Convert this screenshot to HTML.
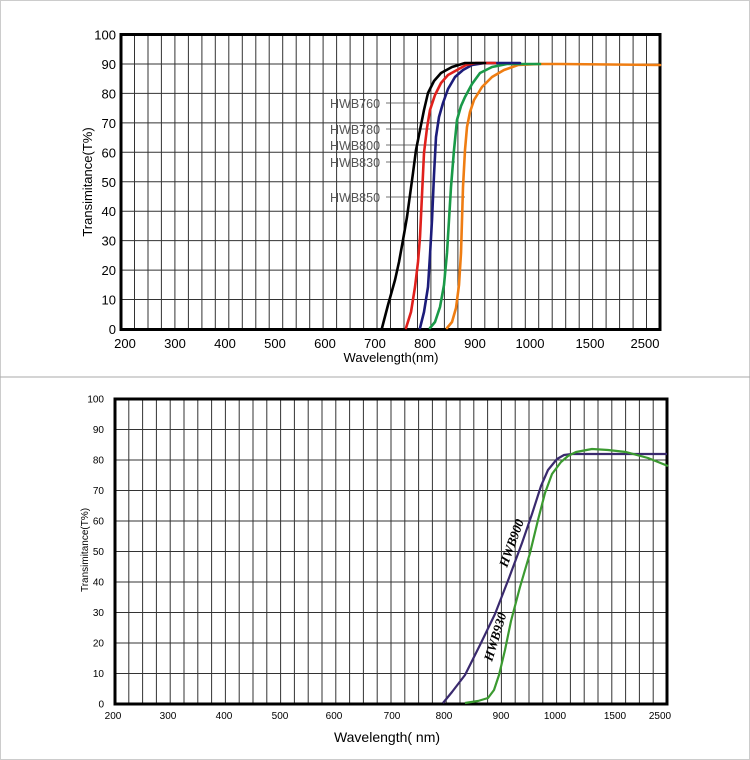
<!DOCTYPE html>
<html><head><style>
body{margin:0;background:#fff;}
svg{display:block;font-family:"Liberation Sans",sans-serif;}
</style></head><body>
<svg width="750" height="760" viewBox="0 0 750 760" xmlns="http://www.w3.org/2000/svg">
<rect x="0.5" y="0.5" width="749" height="759" fill="#fff" stroke="#ccc"/>
<line x1="0" y1="377" x2="750" y2="377" stroke="#aaa" stroke-width="1"/>
<path stroke="#333" stroke-width="1" fill="none" d="M134.5,34V329M148,34V329M161.4,34V329M174.9,34V329M188.4,34V329M201.9,34V329M215.3,34V329M228.8,34V329M242.3,34V329M255.8,34V329M269.2,34V329M282.7,34V329M296.2,34V329M309.7,34V329M323.1,34V329M336.6,34V329M350.1,34V329M363.6,34V329M377,34V329M390.5,34V329M404,34V329M417.5,34V329M430.9,34V329M444.4,34V329M457.9,34V329M471.4,34V329M484.8,34V329M498.3,34V329M511.8,34V329M525.3,34V329M538.7,34V329M552.2,34V329M565.7,34V329M579.2,34V329M592.6,34V329M606.1,34V329M619.6,34V329M633.1,34V329M646.5,34V329
M121,299.55H660M121,270.1H660M121,240.65H660M121,211.2H660M121,181.75H660M121,152.3H660M121,122.85H660M121,93.4H660M121,63.95H660"/>
<path stroke="#333" stroke-width="1" fill="none" d="M128.8,399V704M142.6,399V704M156.4,399V704M170.2,399V704M184,399V704M197.8,399V704M211.6,399V704M225.4,399V704M239.2,399V704M253,399V704M266.8,399V704M280.6,399V704M294.4,399V704M308.2,399V704M322,399V704M335.8,399V704M349.6,399V704M363.4,399V704M377.2,399V704M391,399V704M404.8,399V704M418.6,399V704M432.4,399V704M446.2,399V704M460,399V704M473.8,399V704M487.6,399V704M501.4,399V704M515.2,399V704M529,399V704M542.8,399V704M556.6,399V704M570.4,399V704M584.2,399V704M598,399V704M611.8,399V704M625.6,399V704M639.4,399V704M653.2,399V704
M115,673.5H667M115,643H667M115,612.5H667M115,582H667M115,551.5H667M115,521H667M115,490.5H667M115,460H667M115,429.5H667"/>
<rect x="121" y="34.5" width="539" height="295" fill="none" stroke="#000" stroke-width="3"/>
<rect x="115" y="399" width="552" height="305" fill="none" stroke="#000" stroke-width="3"/>
<g font-size="13" fill="#000" text-anchor="end">
<text x="116" y="334">0</text><text x="116" y="304.5">10</text><text x="116" y="275">20</text><text x="116" y="245.6">30</text><text x="116" y="216.2">40</text><text x="116" y="186.8">50</text><text x="116" y="157.3">60</text><text x="116" y="127.9">70</text><text x="116" y="98.4">80</text><text x="116" y="69">90</text><text x="116" y="39.5">100</text>
</g>
<g font-size="13" fill="#000" text-anchor="middle">
<text x="125" y="348">200</text><text x="175" y="348">300</text><text x="225" y="348">400</text><text x="275" y="348">500</text><text x="325" y="348">600</text><text x="375" y="348">700</text><text x="425" y="348">800</text><text x="475" y="348">900</text><text x="530" y="348">1000</text><text x="590" y="348">1500</text><text x="645" y="348">2500</text>
</g>
<text x="391" y="362" font-size="13" text-anchor="middle">Wavelength(nm)</text>
<text transform="translate(92,182) rotate(-90)" font-size="13" text-anchor="middle">Transimitance(T%)</text>
<g font-size="12.5" fill="#555">
<text x="330" y="108">HWB760</text><text x="330" y="134">HWB780</text><text x="330" y="150">HWB800</text><text x="330" y="167">HWB830</text><text x="330" y="202">HWB850</text>
</g>
<g stroke="#444" stroke-width="0.8">
<line x1="386" y1="103" x2="420" y2="103"/><line x1="386" y1="129" x2="430" y2="129"/><line x1="386" y1="145" x2="440" y2="145"/><line x1="386" y1="162" x2="455" y2="162"/><line x1="386" y1="197" x2="465" y2="197"/>
</g>
<g fill="none" stroke-width="2.6" stroke-linejoin="round" stroke-linecap="round">
<polyline stroke="#ef7d12" points="447,328 452,322 456,308 459,285 461,253 462,220 463,187 465,150 467,127 470,112 474,100 482,87 492,77 504,70 518,65 540,64 560,64 660,65"/>
<polyline stroke="#1a9a48" points="430,328 435,322 440,307 444,285 447,253 449,220 451,187 454,150 457,120 461,106 465,97 472,84 480,73 492,67 507,64 540,64"/>
<polyline stroke="#1c1c7a" points="420,328 424,312 428,287 430,255 432,220 434,175 436,137 439,117 443,103 448,89 455,77 463,70 472,65 485,63 499,63 520,63"/>
<polyline stroke="#e0201c" points="406,328 411,312 415,287 418,262 420,237 422,195 424,153 427,128 430,110 435,95 441,83 448,75 457,70 466,65 476,63 495,63"/>
<polyline stroke="#000" points="382,328 388,305 395,280 399,262 403,240 407,217 410,195 413,173 416,150 420,130 424,110 428,93 434,81 441,73 452,67 465,63 485,63"/>
</g>
<g font-size="10" fill="#000" text-anchor="end">
<text x="104" y="707.5">0</text><text x="104" y="677">10</text><text x="104" y="646.5">20</text><text x="104" y="616">30</text><text x="104" y="585.5">40</text><text x="104" y="555">50</text><text x="104" y="524.5">60</text><text x="104" y="494">70</text><text x="104" y="463.5">80</text><text x="104" y="433">90</text><text x="104" y="402.5">100</text>
</g>
<g font-size="10" fill="#000" text-anchor="middle">
<text x="113" y="719">200</text><text x="168" y="719">300</text><text x="224" y="719">400</text><text x="280" y="719">500</text><text x="334" y="719">600</text><text x="392" y="719">700</text><text x="444" y="719">800</text><text x="501" y="719">900</text><text x="555" y="719">1000</text><text x="615" y="719">1500</text><text x="660" y="719">2500</text>
</g>
<text x="387" y="742" font-size="14" text-anchor="middle">Wavelength( nm)</text>
<text transform="translate(88,550) rotate(-90)" font-size="10" text-anchor="middle">Transimitance(T%)</text>
<g fill="none" stroke-width="2.2" stroke-linejoin="round">
<polyline stroke="#3a2a6e" points="443,703 452,692 465,675 480,645 495,614 509,578 522,543 532,514 541,486 548,470 557,459 564,455 572,454 667,454"/>
<polyline stroke="#3b9a30" points="465,703 478,701 488,698 494,690 499,675 505,650 511,621 520,587 530,553 538,520 545,493 552,474 561,462 568,456 576,452 592,449 608,450 626,452 648,458 668,466"/>
</g>
<text transform="translate(507,568) rotate(-70)" font-size="13" font-family="Liberation Serif,serif" font-weight="bold" font-style="italic">HWB900</text>
<text transform="translate(492,662) rotate(-73)" font-size="13" font-family="Liberation Serif,serif" font-weight="bold" font-style="italic">HWB930</text>
</svg>
</body></html>
